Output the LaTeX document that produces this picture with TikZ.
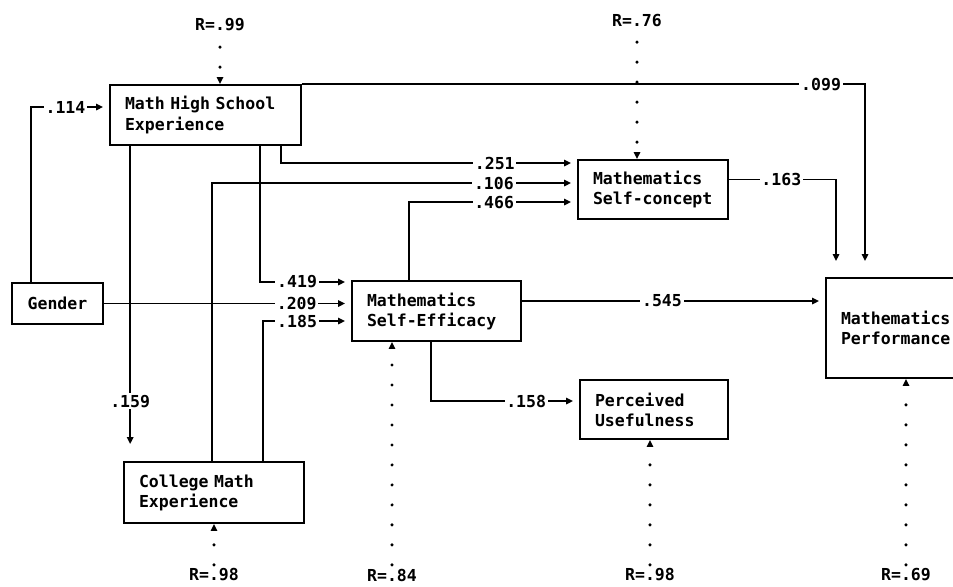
\documentclass[tikz,border=0pt]{standalone}
\usepackage{fontspec}
\setmonofont{DejaVu Sans Mono}
\usetikzlibrary{arrows.meta,calc,positioning}
\tikzset{
  var/.style={
    draw,
    shape = rectangle,
    line width = 1pt,
    align = left,
    inner xsep = 0.3cm,
    inner ysep = 0pt,
    font = \ttfamily\bfseries\fontsize{9.4}{11.4}\selectfont
  },
  link/.style={
    line width = 1pt,
    -{Triangle[length=4pt,width=3.6pt]}
  },
  gap/.style={
    shorten >= 0.12cm
  },
  coef/.style={
    fill = white,
    inner sep = 1pt,
    font = \ttfamily\bfseries\fontsize{9.4}{11.4}\selectfont
  },
  resid/.style={
    line width = 1.9pt,
    line cap = round,
    dash pattern = on 0pt off 0.4cm,
    -{Triangle[length=4pt,width=3.6pt]}
  },
  rlabel/.style={
    inner sep = 2pt,
    font = \ttfamily\bfseries\fontsize{9.4}{11.4}\selectfont
  }
}

\begin{document}
\begin{tikzpicture}[x=0.02cm,y=-0.02cm]
    \useasboundingbox (0,0) rectangle (953,586);
    % variables
    \node[var,text width=3.22cm,minimum height=1.2cm] (mhs) at (205.5,115) {Math High School\\Experience};
    \node[var,align=center,text width=1.22cm,minimum height=0.82cm] (gender) at (57.5,303.5) {Gender};
    \node[var,text width=3.0cm,minimum height=1.22cm] (college) at (214,492.5) {College Math\\Experience};
    \node[var,text width=2.78cm,minimum height=1.2cm] (efficacy) at (436.5,311) {Mathematics\\Self-Efficacy};
    \node[var,text width=2.4cm,minimum height=1.18cm] (concept) at (653,189.5) {Mathematics\\Self-concept};
    \node[var,text width=2.36cm,minimum height=1.18cm] (useful) at (654,409.5) {Perceived\\Usefulness};
    \node[var,text width=2.2cm,minimum height=2cm] (perf) at (896,328) {Mathematics\\Performance};
    % paths
    \draw[link,gap] ($(gender.north west)+(20,0)$) |- node[coef,pos=0.72]{.114} ($(mhs.west)+(0,-8)$);
    \draw[link] (mhs.north east) -| node[coef,pos=0.461]{.099} ($(perf.north)+(-31,-16)$);
    \draw[link,gap] ($(mhs.south east)+(-21,0)$) |- node[coef,pos=0.861]{.251} ($(concept.west)+(0,-26.5)$);
    \draw[link,gap] ($(college.north west)+(89,0)$) |- node[coef,pos=0.886]{.106} ($(concept.west)+(0,-6.5)$);
    \draw[link,gap] ($(efficacy.north west)+(58,0)$) |- node[coef,pos=0.753]{.466} ($(concept.west)+(0,12.5)$);
    \draw[link,gap] ($(mhs.south west)+(151,0)$) |- node[coef,pos=0.703]{.419} ($(efficacy.west)+(0,-29)$);
    \draw[link,gap] (gender.east) -- node[coef,pos=0.78]{.209} (efficacy.west |- gender.east);
    \draw[link,gap] ($(college.north west)+(140,0)$) |- node[coef,pos=0.693]{.185} ($(efficacy.west)+(0,10)$);
    \draw[link] ($(mhs.south west)+(21,0)$) -- node[coef,pos=0.857]{.159} ($(mhs.south west |- college.north)+(21,-17)$);
    \coordinate (e545) at ($(efficacy.east)+(0,-10)$);
    \draw[link,gap] (e545) -- node[coef,pos=0.462]{.545} (perf.west |- e545);
    \draw[link,gap] ($(efficacy.south west)+(80,0)$) |- node[coef,pos=0.821]{.158} ($(useful.west)+(0,-8.5)$);
    \draw[link] ($(concept.east)+(0,-10)$) -| node[coef,pos=0.245]{.163} ($(perf.north)+(-60,-16)$);
    % residuals
    \node[rlabel] (r1) at (220,25) {R=.99};
    \node[rlabel] (r2) at (637,20) {R=.76};
    \node[rlabel] (r3) at (214,575) {R=.98};
    \node[rlabel] (r4) at (392,575) {R=.84};
    \node[rlabel] (r5) at (650,575) {R=.98};
    \node[rlabel] (r6) at (906,575) {R=.69};
    \draw[resid] ([yshift=-0.24cm]r1.south) -- (r1.south |- mhs.north);
    \draw[resid] ([yshift=-0.24cm]r2.south) -- (r2.south |- concept.north);
    \draw[resid] (r3.north) -- (r3.north |- college.south);
    \draw[resid] (r4.north) -- (r4.north |- efficacy.south);
    \draw[resid] (r5.north) -- (r5.north |- useful.south);
    \draw[resid] (r6.north) -- (r6.north |- perf.south);
\end{tikzpicture}
\end{document}
